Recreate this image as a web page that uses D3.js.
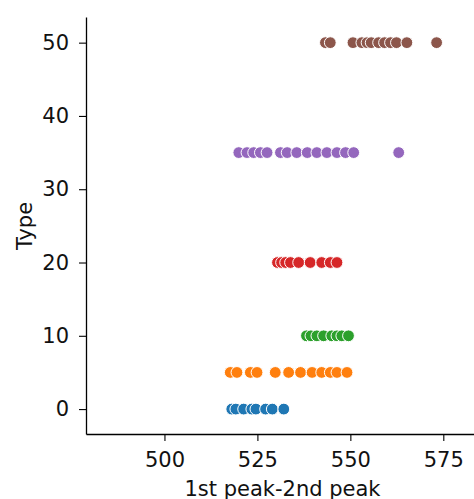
<!DOCTYPE html>
<meta charset="utf-8">
<script src="https://d3js.org/d3.v7.min.js"></script>
<style>
  body { margin: 0; background: #fff; }
  text { font-family: "DejaVu Sans", sans-serif; }
</style>
<div id="chart"></div>
<script>
    // Values, one list per Type
    const types = [0, 5, 10, 20, 35, 50];
    const type0 = [518.1, 519.2, 521.3, 523.5, 524.6, 527.2, 529.0, 532.1];
    const type5 = [517.7, 519.5, 523.1, 524.9, 529.8, 533.4, 536.6, 539.7, 542.3, 544.6, 546.4, 549.1];
    const type10 = [538.2, 539.4, 541.0, 542.8, 545.0, 546.4, 547.7, 549.5];
    const type20 = [530.4, 531.5, 532.6, 533.9, 536.1, 539.2, 542.3, 544.6, 546.4];
    const type35 = [520.0, 522.2, 524.0, 525.8, 527.6, 531.2, 533.0, 535.6, 538.4, 541.0, 543.7, 546.4, 548.7, 550.9, 563.0];
    const type50 = [543.3, 544.6, 550.7, 553.1, 554.5, 555.6, 557.6, 559.2, 560.8, 562.4, 565.2, 573.2];
    const series = [type0, type5, type10, type20, type35, type50];
    const xTicks = [500, 525, 550, 575];
    const yTicks = [0, 10, 20, 30, 40, 50];

    const colors = ["#1f77b4", "#ff7f0e", "#2ca02c", "#d62728", "#9467bd", "#8c564b"];

    const W = 474, H = 499;
    const svg = d3.select("#chart").append("svg")
        .attr("width", W).attr("height", H);

    const x = d3.scaleLinear().domain([478.9, 584.6]).range([86, 479]);
    const y = d3.scaleLinear().domain([-3.4, 53.5]).range([434, 17]);

    const points = [];
    series.forEach((vals, i) => vals.forEach(v => points.push({type: types[i], v: v, c: colors[i]})));

    svg.append("g")
        .selectAll("circle")
        .data(points)
        .join("circle")
            .attr("cx", d => x(d.v))
            .attr("cy", d => y(d.type))
            .attr("r", 5.9)
            .attr("fill", d => d.c)
            .attr("stroke", "#fff")
            .attr("stroke-width", 1);

    // Axes
    const xAxis = svg.append("g")
        .attr("transform", "translate(0,434)")
        .call(d3.axisBottom(x).tickValues(xTicks).tickSize(7).tickSizeOuter(0).tickPadding(11));
    const yAxis = svg.append("g")
        .attr("transform", "translate(86,0)")
        .call(d3.axisLeft(y).tickValues(yTicks).tickSize(7).tickSizeOuter(0).tickPadding(10));

    [xAxis, yAxis].forEach(a => {
        a.select(".domain").attr("stroke", "#000").attr("stroke-width", 1.3);
        a.selectAll(".tick line").attr("stroke", "#000").attr("stroke-width", 1.1);
        a.selectAll(".tick text")
            .attr("fill", "#111")
            .style("font-family", "DejaVu Sans")
            .style("font-size", "21px");
    });

    svg.append("text")
        .attr("x", 282.5).attr("y", 496)
        .attr("text-anchor", "middle")
        .style("font-size", "21px").attr("fill", "#111")
        .text("1st peak-2nd peak");

    svg.append("text")
        .attr("transform", "translate(32,226) rotate(-90)")
        .attr("text-anchor", "middle")
        .style("font-size", "21px").attr("fill", "#111")
        .text("Type");
</script>
